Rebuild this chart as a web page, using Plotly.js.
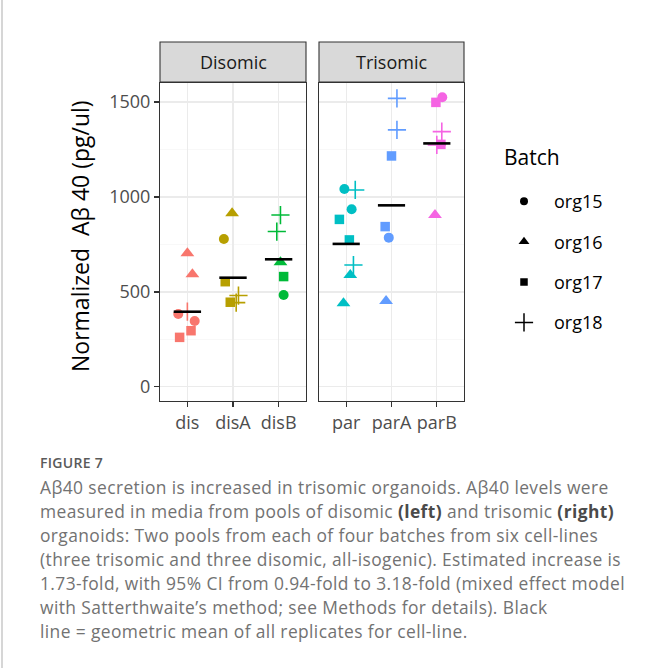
<!DOCTYPE html>
<html>
<head>
<meta charset="utf-8">
<script src="https://cdn.plot.ly/plotly-3.0.1.min.js"></script>
<style>
  html, body { margin: 0; padding: 0; background: #fff; }
  #wrap { position: relative; width: 662px; height: 668px; overflow: hidden; }
  #chart { position: absolute; left: 0; top: 0; width: 662px; height: 668px; }
  #frame { position: absolute; left: 1px; top: 0; width: 2px; height: 668px; background: #d6d6d6; }
  #caption { position: absolute; left: 40px; top: 451px; width: 622px; font-family: "Open Sans", sans-serif; color: #727272; white-space: nowrap; }
  #caption .fig { font-size: 14px; font-weight: 600; color: #5a5a5a; line-height: 24px; letter-spacing: 0.3px; }
  #caption .txt { font-size: 17.4px; line-height: 24px; letter-spacing: 0.4px; }
  #caption b { color: #4a4a4a; font-weight: 700; }
</style>
</head>
<body>
<div id="wrap">
  <div id="chart"></div>
  <div id="frame"></div>
  <div id="caption">
    <div class="fig">FIGURE 7</div>
    <div class="txt">Aβ40 secretion is increased in trisomic organoids. Aβ40 levels were<br>measured in media from pools of disomic <b>(left)</b> and trisomic <b>(right)</b><br>organoids: Two pools from each of four batches from six cell-lines<br>(three trisomic and three disomic, all-isogenic). Estimated increase is<br>1.73-fold, with 95% CI from 0.94-fold to 3.18-fold (mixed effect model<br>with Satterthwaite’s method; see Methods for details). Black<br>line = geometric mean of all replicates for cell-line.</div>
  </div>
</div>
<script>
// ---------------- data ----------------
const panels = ['Disomic', 'Trisomic'];
const cellLines = ['dis', 'disA', 'disB', 'par', 'parA', 'parB'];
const cellPanel = ['Disomic', 'Disomic', 'Disomic', 'Trisomic', 'Trisomic', 'Trisomic'];
const batches = ['org15', 'org16', 'org17', 'org18'];
const geoMean = [396, 575, 672, 753, 956, 1282];

const ptLine = [
  'dis','dis','dis','dis','dis','dis','dis',
  'disA','disA','disA','disA','disA','disA',
  'disB','disB','disB','disB','disB',
  'par','par','par','par','par','par','par','par',
  'parA','parA','parA','parA','parA','parA',
  'parB','parB','parB','parB','parB','parB'
];
const ptBatch = [
  'org16','org16','org15','org18','org15','org17','org17',
  'org16','org15','org17','org17','org18','org18',
  'org18','org18','org16','org17','org15',
  'org15','org18','org15','org17','org17','org18','org16','org16',
  'org18','org18','org17','org17','org15','org16',
  'org15','org17','org18','org17','org18','org16'
];
const ptValue = [
  704, 593, 384, 396, 347, 261, 296,
  914, 779, 554, 446, 481, 444,
  905, 818, 656, 581, 484,
  1042, 1037, 935, 882, 774, 642, 589, 440,
  1519, 1353, 1216, 844, 786, 453,
  1525, 1498, 1344, 1277, 1274, 905
];
// horizontal jitter (in category units)
const ptJitter = [
  0, 0.11, -0.2, 0, 0.16, -0.17, 0.08,
  -0.02, -0.2, -0.17, -0.06, 0.12, 0.07,
  0.04, -0.04, 0.04, 0.11, 0.11,
  -0.04, 0.2, 0.12, -0.15, 0.07, 0.16, 0.09, -0.06,
  0.12, 0.12, 0, -0.14, -0.06, -0.12,
  0.12, -0.02, 0.11, 0.09, 0, -0.04
];

// ---------------- styles ----------------
const lineColor = {dis:'#F8766D', disA:'#B79F00', disB:'#00BA38', par:'#00BFC4', parA:'#619CFF', parB:'#F564E3'};
const batchSymbol = {org15:'circle', org16:'triangle-up', org17:'square', org18:'cross-thin-open'};
const batchSize = {org15:10, org16:12, org17:9.5, org18:13};
const batchLineW = {org15:0, org16:0, org17:0, org18:1.6};
const legendSize = {org15:8, org16:9.5, org17:7.5, org18:13};
const FONT = '"Open Sans", sans-serif';
const W = 662, H = 668;

const panelAxis = {Disomic:{x:'x', y:'y'}, Trisomic:{x:'x2', y:'y2'}};

const traces = [];
cellLines.forEach((cl) => {
  const panel = cellPanel[cellLines.indexOf(cl)];
  const within = cellLines.filter((c, j) => cellPanel[j] === panel);
  const pos = within.indexOf(cl) + 1;
  const xs = [], ys = [], sym = [], sz = [], lw = [];
  ptLine.forEach((l, i) => {
    if (l !== cl) return;
    xs.push(pos + ptJitter[i]);
    ys.push(ptValue[i]);
    sym.push(batchSymbol[ptBatch[i]]);
    sz.push(batchSize[ptBatch[i]]);
    lw.push(batchLineW[ptBatch[i]]);
  });
  traces.push({
    type: 'scatter', mode: 'markers', x: xs, y: ys,
    xaxis: panelAxis[panel].x, yaxis: panelAxis[panel].y,
    showlegend: false, hoverinfo: 'skip', opacity: 1,
    marker: {color: lineColor[cl], opacity: 1, symbol: sym, size: sz, line: {color: lineColor[cl], width: lw}}
  });
});
// geometric mean bars
cellLines.forEach((cl, k) => {
  const panel = cellPanel[k];
  const within = cellLines.filter((c, j) => cellPanel[j] === panel);
  const pos = within.indexOf(cl) + 1;
  traces.push({
    type: 'scatter', mode: 'lines', x: [pos - 0.3, pos + 0.3], y: [geoMean[k], geoMean[k]],
    xaxis: panelAxis[panel].x, yaxis: panelAxis[panel].y,
    showlegend: false, hoverinfo: 'skip',
    line: {color: '#000000', width: 2.6}
  });
});
// legend entries
batches.forEach((b) => {
  traces.push({
    type: 'scatter', mode: 'markers', x: [null], y: [null], name: b, legendgroup: b,
    xaxis: 'x', yaxis: 'y', showlegend: true,
    marker: {color: '#000000', opacity: 1, symbol: batchSymbol[b], size: legendSize[b],
             line: {color: '#000000', width: b === 'org18' ? 1.5 : 0}}
  });
});

const plotTop = 83, plotBot = 401;
const yDom = [1 - plotBot / H, 1 - plotTop / H];
const xDom1 = [160 / W, 306 / W];
const xDom2 = [319 / W, 464 / W];

function xAxis(dom, cats, anchor) {
  return {
    domain: dom, anchor: anchor, range: [0.4, 3.6],
    tickmode: 'array', tickvals: [1, 2, 3], ticktext: cats,
    showgrid: true, gridcolor: '#EBEBEB', gridwidth: 1.1,
    zeroline: false, showline: true, mirror: true, linecolor: '#333333', linewidth: 1.1,
    ticks: 'outside', ticklen: 5, tickwidth: 1.1, tickcolor: '#333333',
    tickfont: {family: FONT, size: 18, color: '#4D4D4D'}, fixedrange: true
  };
}
function yAxis(anchor, labels) {
  return {
    domain: yDom, anchor: anchor, range: [-74, 1600],
    tickmode: 'array', tickvals: [0, 500, 1000, 1500],
    showticklabels: labels,
    showgrid: true, gridcolor: '#EBEBEB', gridwidth: 1.1,
    minor: {tickmode: 'array', tickvals: [250, 750, 1250], showgrid: true, gridcolor: '#F3F3F3', gridwidth: 0.6, ticks: ''},
    zeroline: false, showline: true, mirror: true, linecolor: '#333333', linewidth: 1.1,
    ticks: labels ? 'outside' : '', ticklen: 5, tickwidth: 1.1, tickcolor: '#333333',
    tickfont: {family: FONT, size: 18, color: '#4D4D4D'}, fixedrange: true
  };
}

const disCats = cellLines.filter((c, j) => cellPanel[j] === panels[0]);
const triCats = cellLines.filter((c, j) => cellPanel[j] === panels[1]);

const stripY0 = 1 - 82 / H, stripY1 = 1 - 42 / H;
const shapes = [xDom1, xDom2].map((d) => ({
  type: 'rect', xref: 'paper', yref: 'paper', x0: d[0], x1: d[1], y0: stripY0, y1: stripY1,
  fillcolor: '#D9D9D9', line: {color: '#333333', width: 1.1}, layer: 'above'
}));
const annotations = [xDom1, xDom2].map((d, i) => ({
  xref: 'paper', yref: 'paper', x: (d[0] + d[1]) / 2, y: (stripY0 + stripY1) / 2,
  xanchor: 'center', yanchor: 'middle', showarrow: false, text: panels[i],
  font: {family: FONT, size: 18, color: '#1A1A1A'}
}));
annotations.push({
  xref: 'paper', yref: 'paper', x: 80 / W, y: 1 - 236 / H, xanchor: 'center', yanchor: 'middle',
  showarrow: false, textangle: -90, text: 'Normalized\u00A0 Aβ 40 (pg/ul)',
  font: {family: FONT, size: 23, color: '#000000'}
});
annotations.push({
  xref: 'paper', yref: 'paper', x: 502 / W, y: 1 - 157 / H, xanchor: 'left', yanchor: 'middle',
  showarrow: false, text: 'Batch',
  font: {family: FONT, size: 21, color: '#000000'}
});

const layout = {
  width: W, height: H, margin: {l: 0, r: 0, t: 0, b: 0},
  paper_bgcolor: '#ffffff', plot_bgcolor: '#ffffff',
  font: {family: FONT},
  xaxis: xAxis(xDom1, disCats, 'y'),
  xaxis2: xAxis(xDom2, triCats, 'y2'),
  yaxis: yAxis('x', true),
  yaxis2: Object.assign(yAxis('x2', false), {matches: 'y'}),
  showlegend: true,
  legend: {
    x: 494 / W, y: 1 - 183 / H, xanchor: 'left', yanchor: 'top',
    bgcolor: 'rgba(0,0,0,0)', borderwidth: 0,
    font: {family: FONT, size: 18, color: '#000000'},
    tracegroupgap: 14, itemsizing: 'trace', itemwidth: 50
  },
  shapes: shapes, annotations: annotations
};

Plotly.newPlot('chart', traces, layout, {displayModeBar: false, staticPlot: true});
</script>
</body>
</html>
